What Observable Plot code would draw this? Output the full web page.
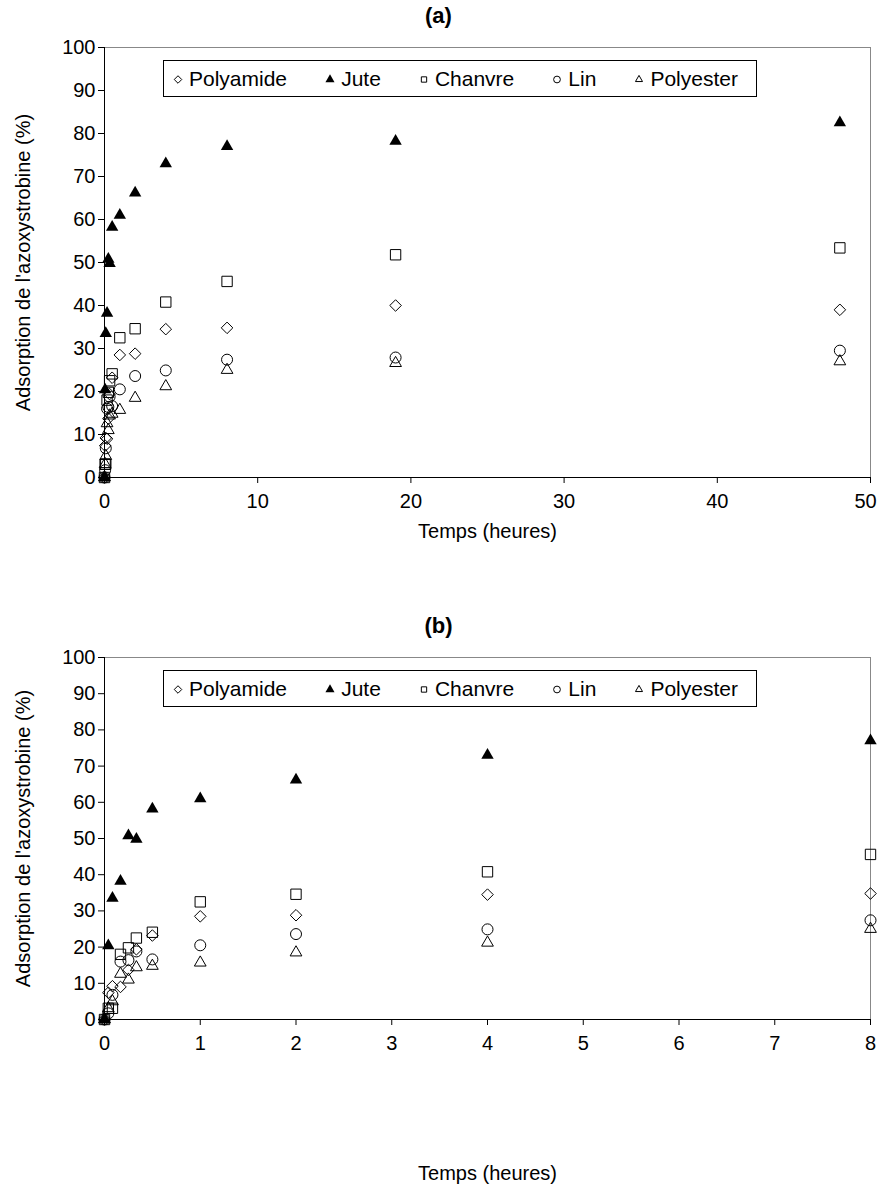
<!DOCTYPE html>
<html>
<head>
<meta charset="utf-8">
<script src="https://cdn.jsdelivr.net/npm/d3@7"></script>
<script src="https://cdn.jsdelivr.net/npm/@observablehq/plot@0.6"></script>
<style>
  body { margin: 0; background: #fff; font-family: "Liberation Sans", Arial, sans-serif; }
  #root { position: relative; width: 877px; height: 1193px; overflow: hidden; }
  .title { position: absolute; left: 0; width: 877px; text-align: center; font-weight: bold; font-size: 22px; }
  .panel { position: absolute; left: 0; }
  .legend { position: absolute; border: 1px solid #000; background: #fff; display: flex; align-items: center;
            justify-content: space-between; font-size: 21px; box-sizing: border-box; padding: 0 18px 0 9px; }
  .legend .item { display: flex; align-items: center; white-space: nowrap; }
  .legend svg { margin-right: 6px; }
</style>
</head>
<body>
<div id="root"></div>
<script>
// ---- Data ----
const timesB = [0, 0.04, 0.083, 0.167, 0.25, 0.333, 0.5, 1, 2, 4, 8];
const timesA = [0, 0.04, 0.083, 0.167, 0.25, 0.333, 0.5, 1, 2, 4, 8, 19, 48];
const seriesNames = ["Polyamide", "Jute", "Chanvre", "Lin", "Polyester"];
const polyamide = [0, 7.4, 9.2, 9.0, 13.7, 19.4, 23.2, 28.5, 28.8, 34.5, 34.8, 40.0, 39.0];
const jute      = [0, 20.4, 33.5, 38.2, 50.8, 49.8, 58.2, 61.0, 66.2, 73.0, 77.0, 78.2, 82.5];
const chanvre   = [0, 3.1, 3.1, 18.0, 19.8, 22.5, 24.1, 32.5, 34.6, 40.8, 45.6, 51.8, 53.4];
const lin       = [0, 1.7, 6.8, 16.0, 16.4, 18.8, 16.6, 20.5, 23.6, 24.9, 27.4, 27.9, 29.5];
const polyester = [0, 3.1, 5.0, 12.6, 11.0, 14.4, 14.8, 15.7, 18.5, 21.2, 25.0, 26.6, 27.0];
const yTicks = [0, 10, 20, 30, 40, 50, 60, 70, 80, 90, 100];
const xTicksA = [0, 10, 20, 30, 40, 50];
const xTicksB = [0, 1, 2, 3, 4, 5, 6, 7, 8];

const seriesValues = [polyamide, jute, chanvre, lin, polyester];
const styles = {
  Polyamide: {symbol: "diamond2", r: 5.2, fill: "none"},
  Jute:      {symbol: "triangle", r: 4.6, fill: "black"},
  Chanvre:   {symbol: "square2", r: 6.6, fill: "none"},
  Lin:       {symbol: "circle", r: 5.5, fill: "none"},
  Polyester: {symbol: "triangle2", r: 5.6, fill: "none"}
};

function rows(times) {
  const out = [];
  seriesNames.forEach((name, i) => {
    times.forEach((t, j) => out.push({series: name, t, v: seriesValues[i][j]}));
  });
  return out;
}

const root = document.getElementById("root");

function addTitle(text, top) {
  const d = document.createElement("div");
  d.className = "title";
  d.style.top = top + "px";
  d.textContent = text;
  root.appendChild(d);
}

function addLegend(left, top, width, height) {
  const lg = document.createElement("div");
  lg.className = "legend";
  Object.assign(lg.style, {left: left + "px", top: top + "px", width: width + "px", height: height + "px"});
  const symMap = {diamond2: d3.symbolDiamond2, triangle: d3.symbolTriangle, square2: d3.symbolSquare2, circle: d3.symbolCircle, triangle2: d3.symbolTriangle2};
  seriesNames.forEach(name => {
    const st = styles[name];
    const it = document.createElement("span");
    it.className = "item";
    const ns = "http://www.w3.org/2000/svg";
    const s = document.createElementNS(ns, "svg");
    s.setAttribute("width", 10); s.setAttribute("height", 10);
    const p = document.createElementNS(ns, "path");
    p.setAttribute("d", d3.symbol(symMap[st.symbol], 36)());
    p.setAttribute("transform", "translate(5,5.5)");
    p.setAttribute("fill", st.fill === "none" ? "none" : "black");
    p.setAttribute("stroke", "black");
    p.setAttribute("stroke-width", st.fill === "none" ? 1 : 0);
    s.appendChild(p);
    it.appendChild(s);
    it.appendChild(document.createTextNode(name));
    lg.appendChild(it);
  });
  root.appendChild(lg);
}

function panel(times, xMax, xTicks, top, plotH, marginBottom, labelOffsetX, lastDx) {
  const data = rows(times);
  const marks = [
    Plot.ruleY([100], {stroke: "#888", strokeWidth: 1}),
    Plot.ruleX([xMax], {stroke: "#888", strokeWidth: 1}),
    Plot.axisY(yTicks, {tickSize: 6, tickPadding: 3, label: "Adsorption de l'azoxystrobine (%)", labelAnchor: "center", labelArrow: "none", labelOffset: 89, fontSize: 20}),
    Plot.axisX(xTicks, {tickSize: 6, tickPadding: 10, tickFormat: d => (d === xMax && lastDx) ? "" : d,
      label: "Temps (heures)", labelAnchor: "center", labelArrow: "none", labelOffset: labelOffsetX, fontSize: 20}),
    Plot.ruleX([0], {stroke: "black"}),
    Plot.ruleY([0], {stroke: "black"})
  ];
  if (lastDx) {
    marks.push(Plot.axisX([xMax], {tickSize: 0, tickPadding: 16, dx: lastDx, label: null, fontSize: 20}));
  }
  seriesNames.forEach(name => {
    const st = styles[name];
    marks.push(Plot.dot(data.filter(d => d.series === name), {
      x: "t", y: "v", symbol: () => st.symbol, r: st.r,
      fill: st.fill, stroke: "black", strokeWidth: st.fill === "none" ? 1 : 0
    }));
  });
  const chart = Plot.plot({
    width: 877,
    height: 12 + plotH + marginBottom,
    marginTop: 12,
    marginLeft: 104,
    marginRight: 7,
    marginBottom: marginBottom,
    style: {fontFamily: "'Liberation Sans', Arial, sans-serif", fontSize: "20px", color: "black", background: "white", overflow: "visible"},
    x: {domain: [0, xMax]},
    y: {domain: [0, 100]},
    symbol: {type: "identity"},
    marks
  });
  const wrap = document.createElement("div");
  wrap.className = "panel";
  wrap.style.top = top + "px";
  wrap.appendChild(chart);
  root.appendChild(wrap);
}

addTitle("(a)", 3);
panel(timesA, 50, xTicksA, 35, 430, 74, 60, -5);
addLegend(163, 60, 594, 37);

addTitle("(b)", 613);
panel(timesB, 8, xTicksB, 645, 362, 174, 160, 0);
addLegend(163, 670, 594, 37);
</script>
</body>
</html>
